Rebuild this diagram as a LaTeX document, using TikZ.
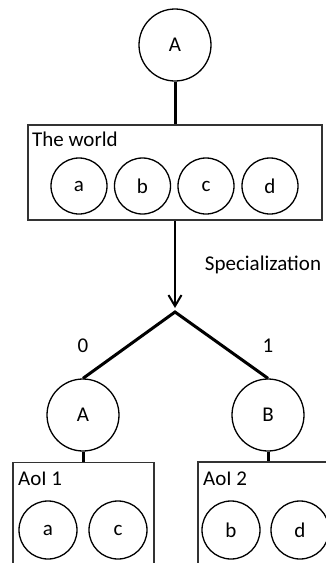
\documentclass[tikz,border=0pt]{standalone}
\usepackage{fontspec}
\setmainfont{Carlito}
\usetikzlibrary{arrows.meta}
\begin{document}
\begin{tikzpicture}[x=1pt,y=-1pt,
  font=\fontsize{21}{24}\selectfont,
  bigcirc/.style={draw=black,line width=1.3pt,circle,minimum size=72pt,inner sep=0pt},
  smallcirc/.style={draw=black,line width=1.3pt,circle,minimum size=56pt,inner sep=0pt},
  groupbox/.style={draw=black!80,line width=1.5pt,rectangle,inner sep=0pt},
  link/.style={line width=3pt},
  label/.style={inner sep=0pt,anchor=base west}]
\useasboundingbox (0,0) rectangle (326,563);
\clip (0,0) rectangle (326,563);

% root concept and the whole world
\node[bigcirc] (rootA) at (175,45) {A};
\node[groupbox,minimum width=294pt,minimum height=95pt] (world) at (175,172.5) {};
\node[label] (worldlbl) at (32,146) {The world};
\node[smallcirc] (wa) at (79,186) {a};
\node[smallcirc] (wb) at (142.5,186) {b};
\node[smallcirc] (wc) at (206,186) {c};
\node[smallcirc] (wd) at (270,186) {d};
\draw[link] (rootA) -- (world.north);

% specialization step
\coordinate (tip) at (175,308);
\coordinate (fork) at (175,312);
\draw[line width=2.6pt,-{Straight Barb[length=11pt,width=13pt,line width=2pt]}] (world.south) -- (tip);
\node (spec) at (263,265) {Specialization};

% the two children
\node[bigcirc] (childA) at (83,415) {A};
\node[bigcirc] (childB) at (268,415) {B};
\draw[link,line join=miter] (childA.north) -- (fork) -- (childB.north);
\node (zero) at (83,346) {0};
\node (one) at (268,346) {1};

% areas of interest
\node[groupbox,minimum width=141pt,minimum height=140pt,anchor=north] (aoi1) at (83.5,461.5) {};
\node[groupbox,minimum width=143pt,minimum height=140pt,anchor=north west] (aoi2) at (197,461) {};
\draw[link] (childA) -- (aoi1.north -| childA);
\draw[link] (childB) -- (aoi2.north -| childB);
\node[label] (aoi1lbl) at (18,485) {AoI 1};
\node[label] (aoi2lbl) at (203,485) {AoI 2};
\node[smallcirc,minimum size=58pt] (sa) at (48,530) {a};
\node[smallcirc,minimum size=58pt] (sc) at (118,530) {c};
\node[smallcirc,minimum size=58pt] (sb) at (231,530) {b};
\node[smallcirc,minimum size=58pt] (sd) at (300,530) {d};
\end{tikzpicture}
\end{document}
